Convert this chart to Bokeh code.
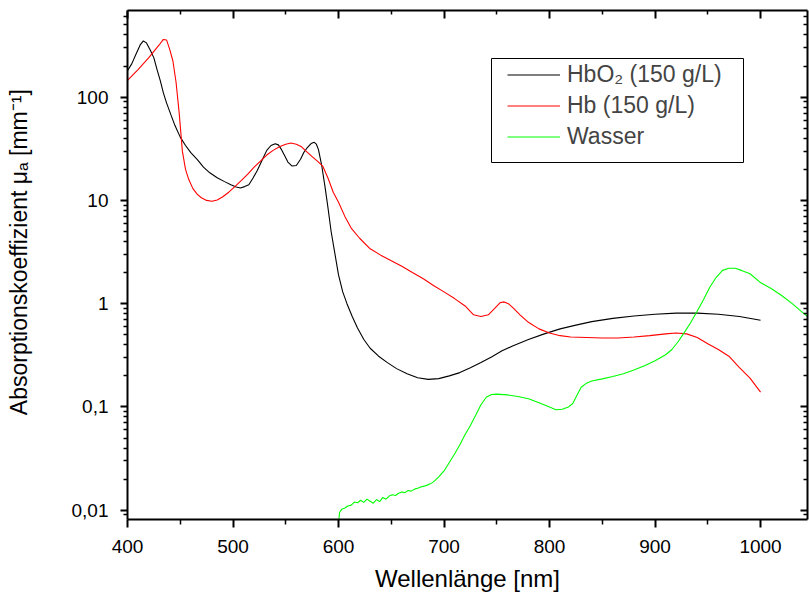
from bokeh.plotting import figure
from bokeh.models import (Range1d, LinearAxis, LogAxis, FixedTicker, Legend, LegendItem,
                          BoxAnnotation, CustomJSTickFormatter)
from bokeh.embed import file_html
from bokeh.resources import INLINE

# ---------------- data ----------------
wl_hbo2 = [400, 404, 408, 412, 415, 418, 422, 425, 428, 431, 434, 437, 441, 445, 450,
           455, 460, 466, 472, 478, 485, 492, 498, 503, 507, 511, 515, 519, 523, 528,
           532, 536, 540, 543, 546, 549, 552, 556, 560, 564, 567, 570, 574, 577, 579,
           581, 584, 587, 590, 593, 596, 600, 604, 608, 613, 618, 624, 630, 638, 646,
           655, 665, 675, 685, 695, 705, 715, 725, 735, 745, 755, 765, 780, 795, 810,
           825, 840, 860, 880, 900, 920, 940, 960, 980, 1000]
mu_hbo2 = [180, 210, 260, 320, 350, 335, 280, 240, 185, 145, 110, 88, 68, 53, 41,
           34, 29, 25, 21, 18.5, 16.6, 15.2, 14.2, 13.5, 13.2, 13.6, 14.2, 16.5, 19.5, 25,
           30.5, 34, 35.4, 34.5, 31, 27, 23.5, 21.5, 21.8, 25, 29, 32, 35.5, 36.5, 35,
           31, 22, 14, 8.5, 5.0, 3.3, 1.9, 1.3, 1.0, 0.75, 0.58, 0.45, 0.37, 0.31, 0.27,
           0.235, 0.21, 0.192, 0.185, 0.188, 0.2, 0.215, 0.24, 0.27, 0.305, 0.35, 0.39, 0.45, 0.51, 0.57,
           0.62, 0.67, 0.72, 0.76, 0.79, 0.81, 0.81, 0.79, 0.75, 0.69]

wl_hb = [400, 410, 420, 430, 434, 437, 440, 443, 446, 449, 452, 455, 458, 462, 466,
         470, 475, 480, 485, 490, 496, 502, 508, 514, 520, 526, 532, 538, 544, 550,
         555, 560, 565, 570, 575, 580, 585, 590, 595, 600, 606, 612, 620, 630, 640,
         650, 660, 670, 680, 690, 700, 710, 720, 728, 735, 742, 748, 753, 757, 761,
         766, 772, 780, 790, 800, 810, 820, 835, 850, 865, 880, 895, 910, 920, 930,
         940, 950, 960, 970, 980, 990, 1000]
mu_hb = [145, 185, 240, 320, 362, 358, 290, 225, 140, 70, 30, 20, 16, 13, 11.5,
         10.6, 10, 9.8, 10.1, 10.8, 12, 13.7, 15.6, 18, 21, 24, 27.5, 30.5, 33, 35,
         35.9, 35, 33, 29.5, 26.5, 24, 21.5, 16.5, 12, 9.6, 7, 5.4, 4.3, 3.4, 2.95,
         2.6, 2.3, 2.0, 1.75, 1.5, 1.3, 1.12, 0.95, 0.78, 0.75, 0.78, 0.9, 1.02, 1.04, 1.0,
         0.9, 0.78, 0.66, 0.57, 0.52, 0.49, 0.475, 0.47, 0.465, 0.465, 0.475, 0.49, 0.51, 0.52, 0.51,
         0.47, 0.41, 0.36, 0.31, 0.24, 0.19, 0.139]

wl_water = [600, 601, 603, 606, 609, 612, 615, 618, 621, 624, 627, 630, 633, 636, 639,
            642, 645, 648, 651, 654, 657, 660, 663, 666, 669, 672, 675, 678, 681, 684,
            687, 690, 695, 700, 705, 710, 715, 720, 725, 730, 735, 740, 745, 750, 760,
            770, 780, 790, 800, 806, 812, 818, 822, 826, 830, 835, 840, 850, 860, 870,
            880, 890, 900, 910, 916, 922, 928, 934, 940, 946, 952, 958, 964, 970, 976,
            982, 990, 1000, 1010, 1020, 1030, 1040, 1050]
mu_water = [0.0075, 0.0095, 0.0102, 0.0105, 0.011, 0.0112, 0.012, 0.0118, 0.0125, 0.0119, 0.0128, 0.0122, 0.0117, 0.0127, 0.0121,
            0.0133, 0.0128, 0.0137, 0.0141, 0.0139, 0.0146, 0.015, 0.0148, 0.0155, 0.0153, 0.016, 0.0163, 0.0168, 0.0171, 0.0175,
            0.018, 0.0188, 0.021, 0.024, 0.029, 0.035, 0.043, 0.054, 0.066, 0.083, 0.105, 0.124, 0.132, 0.133, 0.131,
            0.126, 0.12, 0.11, 0.1, 0.094, 0.095, 0.1, 0.108, 0.13, 0.155, 0.17, 0.178, 0.187, 0.197, 0.21,
            0.228, 0.25, 0.28, 0.32, 0.36, 0.43, 0.53, 0.66, 0.85, 1.1, 1.45, 1.8, 2.1, 2.2, 2.2,
            2.1, 1.95, 1.6, 1.4, 1.2, 1.0, 0.82, 0.68]

series_labels = ["HbO₂ (150 g/L)", "Hb (150 g/L)", "Wasser"]
series_colors = ["black", "#ff0000", "#00ff00"]

x_major = [400, 500, 600, 700, 800, 900, 1000]
x_minor = [450, 550, 650, 750, 850, 950, 1050]
y_major = [0.01, 0.1, 1, 10, 100]
y_labels = ["0,01", "0,1", "1", "10", "100"]
y_minor = [d * k for d in [0.001, 0.01, 0.1, 1, 10, 100] for k in range(2, 10)]

x_title = "Wellenlänge [nm]"
# leading no-break spaces push the visible title a little up along the axis, as in the reference
y_title = "\u00a0" * 4 + "Absorptionskoeffizient μₐ [mm⁻¹]"

FONT = "Liberation Sans"

# ---------------- figure ----------------
p = figure(width=809, height=597,
           x_range=Range1d(400, 1044.5), y_range=Range1d(0.00813, 690),
           y_axis_type="log", output_backend="svg", toolbar_location=None,
           min_border_left=127, min_border_right=2, min_border_top=10, min_border_bottom=78)
p.outline_line_color = None
p.xgrid.visible = False
p.ygrid.visible = False
p.background_fill_color = "white"
p.border_fill_color = "white"

overrides = {v: s for v, s in zip(y_major, y_labels)}


def style(ax, tin, tout, min_in, min_out):
    ax.axis_line_width = 2
    ax.axis_line_color = "black"
    ax.major_tick_line_width = 2
    ax.minor_tick_line_width = 1.5
    ax.major_tick_line_color = "black"
    ax.minor_tick_line_color = "black"
    ax.major_tick_in = tin
    ax.major_tick_out = tout
    ax.minor_tick_in = min_in
    ax.minor_tick_out = min_out
    ax.major_label_text_font = FONT
    ax.major_label_text_font_size = "19px"
    ax.major_label_text_color = "black"
    ax.axis_label_text_font = FONT
    ax.axis_label_text_font_size = "23px"
    ax.axis_label_text_font_style = "normal"
    ax.axis_label_text_color = "black"


xa = p.xaxis[0]
xa.ticker = FixedTicker(ticks=x_major, minor_ticks=x_minor)
style(xa, 0, 8, 0, 5)
xa.major_label_standoff = 12
xa.axis_label = x_title
xa.axis_label_text_font_size = "24px"
xa.axis_label_standoff = 9

ya = p.yaxis[0]
ya.ticker = FixedTicker(ticks=y_major, minor_ticks=y_minor)
ya.major_label_overrides = overrides
style(ya, 0, 7, 0, 4)
ya.major_label_standoff = 12
ya.axis_label = y_title
ya.axis_label_standoff = 37

top = LinearAxis(ticker=FixedTicker(ticks=x_major, minor_ticks=x_minor),
                 formatter=CustomJSTickFormatter(code="return ''"))
style(top, 8, 0, 4, 0)
top.major_label_standoff = 0
top.major_label_text_color = None
p.add_layout(top, "above")

right = LogAxis(ticker=FixedTicker(ticks=y_major, minor_ticks=y_minor),
                formatter=CustomJSTickFormatter(code="return ''"))
style(right, 7, 0, 4, 0)
right.major_label_standoff = 0
right.major_label_text_color = None
p.add_layout(right, "right")

renderers = []
for wl, mu, col in [(wl_hbo2, mu_hbo2, series_colors[0]),
                    (wl_hb, mu_hb, series_colors[1]),
                    (wl_water, mu_water, series_colors[2])]:
    renderers.append(p.line(wl, mu, line_color=col, line_width=1.1))

legend = Legend(items=[LegendItem(label=lab, renderers=[r]) for lab, r in zip(series_labels, renderers)],
                location=(380, 367), padding=0, spacing=0, margin=0,
                label_height=31, glyph_height=31, glyph_width=53, label_standoff=7,
                label_text_font=FONT, label_text_font_size="23px",
                border_line_alpha=0, background_fill_alpha=0)
p.add_layout(legend)

box = BoxAnnotation(left=364, right=616, top=461, bottom=357,
                    left_units="screen", right_units="screen", top_units="screen", bottom_units="screen",
                    fill_alpha=0, line_color="black", line_width=1, line_alpha=1)
p.add_layout(box)

open("out.html", "w").write(file_html(p, INLINE))
